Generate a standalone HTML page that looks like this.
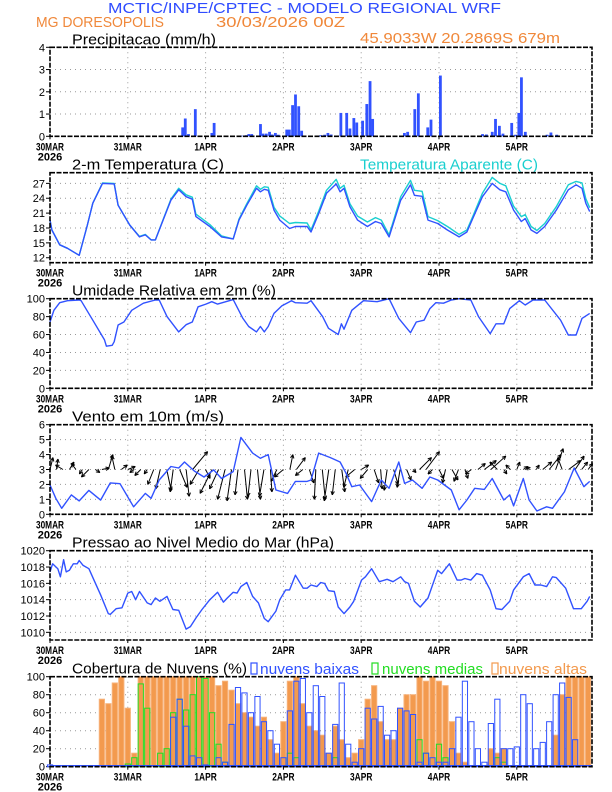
<!DOCTYPE html>
<html><head><meta charset="utf-8">
<style>
html,body{margin:0;padding:0;background:#fff;}
svg{display:block;font-family:"Liberation Sans",sans-serif;}
</style></head>
<body>
<svg id="chart" width="612" height="792" viewBox="0 0 612 792" xmlns="http://www.w3.org/2000/svg">
<text x="108" y="13" font-size="15" fill="#2f4cff" textLength="393" lengthAdjust="spacingAndGlyphs">MCTIC/INPE/CPTEC - MODELO REGIONAL WRF</text>
<text x="36" y="27" font-size="15" fill="#f0883a" textLength="128" lengthAdjust="spacingAndGlyphs">MG DORESOPOLIS</text>
<text x="216" y="27" font-size="15" fill="#f0883a" textLength="129" lengthAdjust="spacingAndGlyphs">30/03/2026 00Z</text>
<text x="360" y="43" font-size="15" fill="#f0883a" textLength="200" lengthAdjust="spacingAndGlyphs">45.9033W 20.2869S 679m</text>
<g id="layers"></g>
</svg>
<script>
// ---------- data ----------
const dayLabels = ["30MAR","31MAR","1APR","2APR","3APR","4APR","5APR"];
const precipHours = [38.2,40.9,41.7,42.7,44.8,49.9,50.6,59.5,60.5,61.3,62.2,64.9,65.7,66.7,67.7,68.5,69.5,70.4,73,73.8,74.8,75.7,76.7,77.6,83.5,84.7,85.7,86.7,89.7,91.5,92.5,93.7,94.6,96.4,97.7,98.7,99.5,109.3,110.3,112.5,113.6,116.5,117.5,120.4,133.4,134.6,136.4,137.4,138.6,139.7,142.4,143.6,144.6,145.4,146.6,153.3,154.5,156.3];
const precipValues = [0.02,0.4,0.8,0.1,1.22,0.15,0.6,0.03,0.05,0.1,0.1,0.55,0.12,0.12,0.2,0.08,0.15,0.07,0.3,0.3,1.4,1.88,1.35,0.25,0.05,0.07,0.15,0.08,1.05,1.05,0.35,0.82,0.62,0.7,1.45,2.48,0.78,0.15,0.2,1.22,1.93,0.4,0.75,2.73,0.1,0.08,0.2,0.78,0.47,0.12,0.6,0.07,1.05,2.65,0.2,0.07,0.17,0.07];
const precipTicks = ["0","1","2","3","4"];

const tempHours = [0,0.6,3,5.4,7.2,9,11.4,13.2,16.2,19.8,21,22.8,24.6,27.6,29.4,31.2,32.5,34.9,37.3,39.7,42,43.9,45,49.3,52.9,56.5,58.3,60.7,63.7,64.9,66.1,67.3,69.1,70.9,73.9,75.7,79.3,80.5,82.9,85.3,88.3,89.5,90.7,92.5,94.9,97.9,100.4,102.2,104.6,106.4,108.2,111.2,112.4,114.8,116.6,119.6,122.6,126.2,128.6,130.4,133.4,136.4,138.8,140.6,143,145.4,146.6,148.4,150.2,152.6,156.2,159.9,162.3,164.1,165.3,166.5];
const tempValues = [19.6,17.6,14.6,13.9,13.2,12.5,18.3,23,27,26.9,22.6,20.6,18.6,16.2,16.6,15.6,15.6,19.6,23.6,25.7,24.3,23.8,20.3,18.3,16.2,15.8,19.6,22.6,26,25.3,25.8,25.6,21.6,19.6,17.9,18.3,18.3,17.2,20.9,25,26.9,25.3,26,22.3,19.6,18.3,19.3,18.9,16.2,19.9,23.6,26.7,24.6,24.4,19.6,18.9,17.6,16.2,17.2,19.9,24.3,27,25.7,25.3,21.6,19.3,19.9,17.6,16.9,18.3,21.6,25.7,26.7,26,23,21.3];
const apparentValues = [19.6,17.6,14.6,13.9,13.2,12.5,18.3,23,27.1,27,22.6,20.6,18.6,16.3,16.7,15.6,15.6,19.7,23.8,26,24.7,24.2,20.8,18.7,16.4,15.8,19.8,22.9,26.5,25.8,26.3,26.2,22.2,20.4,18.9,19.1,19,17.6,21.4,25.6,27.8,26,26.6,22.9,20.4,19.2,20.1,19.6,16.6,20.4,24.3,27.6,25.6,25.4,20.3,19.5,18.3,16.7,17.6,20.3,25,28.2,27,26.5,22.4,20.3,20.7,18.3,17.5,18.9,22.3,26.7,27.4,27.1,23.9,22.1];
const tempTicks = ["12","15","18","21","24","27"];

const rhHours = [0,1.2,3,5.4,9,9.6,13.2,16.8,17.4,19.2,19.8,21,22.8,25.2,28.8,32.5,33.7,36.1,39.7,42,43.9,45.7,48.1,49.9,51.7,56.5,59.5,61.3,63.7,64.9,66.1,67.3,69.1,71.5,74.5,75.7,79.3,80.5,84.1,85.9,88.9,89.9,90.7,93.1,96.7,100.9,104.6,107.6,111.2,113,115.4,117.2,119,121.4,123.8,126.2,129.8,132.2,135.8,137.6,140,141.8,144.8,146.6,149,152.6,157.5,159.9,162.3,164.1,166.5];
const rhValues = [74,87,95.5,97.8,98.5,97.8,76,54,47,48,52,70.6,74,87,95,98.5,98.5,80,63,71,74,91,94,96.7,94,99,78,69,63,69,63,69,83.6,92,97.8,95.5,95,97.8,80,67,60,72,66,87,97.8,96.7,100,78,62,74,76,89,95.5,95,98.5,100,98.5,80,61,72,72,89,97.8,93,98.5,98.5,76,59.5,59.5,78,83.6];
const pctTicks = ["0","20","40","60","80","100"];

const windHours = [0,1.8,3.6,6.6,9,12,15.6,18.6,21.6,25.8,29.4,31.2,33.7,37.3,39.7,41.5,44.5,47.5,50.5,52.9,56.5,58.9,62.5,64.9,67.3,69.7,73.3,75.7,79.3,80.5,82.9,86.5,89.5,91.3,93.1,95.5,99.2,102.2,104.6,107.6,109.4,111.8,114.8,117.2,119.6,123.8,126.2,128.6,131,134,136.4,140,141.8,143,146,147.8,150.2,153.2,155,158.7,161.7,164.7,166.5];
const windSpeed = [1.96,1.07,0.4,1.3,0.9,1.6,0.95,2.1,2.05,0.5,1.4,1.07,2.3,3.2,3.1,3.5,2.9,2.5,2.97,2.4,2.86,5.15,4.1,3.75,4,1.63,1.4,2.2,2.2,2.3,4.1,3.8,3.5,2.75,1.85,1.96,0.85,2.3,1.74,3.5,2.07,2.3,1.74,2.5,2.3,1.63,0.3,0.96,1.74,1.67,2.4,0.96,1.3,0.56,2.4,0.96,0.22,0.5,0.4,1.5,3.1,1.85,2.2];
const windVecU = [0.2,0.1,-0.5,0.3,-0.3,-0.2,-0.5,0.3,0.5,0.3,-0.2,0.4,0.5,-0.3,-0.4,-0.2,-0.4,-0.3,0.3,-0.2,0.5,0.2,1.0,-0.6,0.3,-0.8,-0.6,-0.5,-0.3,-0.2,0.2,-0.2,0.2,-0.3,0.1,-0.4,-0.6,0.2,0.6,-0.5,0.3,-0.1,0.2,-0.3,-0.2,0.2,-0.3,-0.6,0.5,-0.5,0.3,0.1,-0.2,0.3,-0.2,0.3,0.2,0.8,0.9,-0.3,0.3,-0.2,0.4,-0.3,0.2,-0.4,0.5,0.8,1.0,-0.5,0.2,-0.3,0.2,0.3,-0.2,0.2,0.6,0.8,0.5,-0.3,0.8,0.6,0.4,0.3];
const windVecV = [0.8,0.7,0.3,0.5,0.4,-0.3,-0.5,-0.2,0.1,1.0,0.9,0.3,0.2,-0.2,-0.4,-0.3,-1.0,-1.3,-1.4,-1.5,-1.2,-1.8,1.2,-1.0,-0.6,-1.6,-1.3,-2.0,-2.1,-1.7,-2.0,-1.8,-2.0,-1.8,-1.5,-0.8,-0.5,1.0,0.8,-0.4,-0.9,-2.0,-2.0,-2.1,-1.7,-1.5,-1.2,-0.5,0.3,-0.6,-0.9,-1.3,-1.4,-1.0,-1.2,-0.7,-0.2,0.8,1.2,-0.3,-0.6,-0.9,-0.7,-0.8,-0.6,-0.3,0.4,0.6,0.9,0.5,-0.3,0.3,0.5,0.2,0.2,0.3,0.5,1.0,1.4,0.8,0.6,0.9,0.5,0.4];
const windTicks = ["0","1","2","3","4","5","6"];

const presHours = [0,0.8,2.4,3.2,4.2,5,6,7.2,8.4,9,10.2,12,13.8,15.6,18,18.6,20.4,22.2,24,25.2,26.4,27.6,30,31.2,32.5,33.9,36.1,37.9,39.7,42,43.3,45.1,46.9,49.3,51.7,53.5,54.7,56.5,57.7,58.9,60.7,62.5,64.3,66.1,67.3,69.7,70.9,72.7,73.9,75.7,78.1,79.3,80.5,82.3,83.5,84.7,85.9,87.7,88.9,90.7,92.5,93.7,96.1,97.3,99.2,101.6,104,105.8,108.2,109.4,110.6,112.4,114.2,116.6,119.6,120.8,123.2,125.6,126.8,128,129.8,131.6,133.4,135.8,137.6,139.4,141.8,143,146,147.8,149.6,151.4,153.2,155,156.2,159.1,161.5,163.9,165.7,166.5];
const presValues = [1017.4,1018.4,1017.8,1016.8,1018.9,1017.4,1017.6,1018.4,1018.4,1018.8,1018.2,1017.8,1016.2,1014.6,1012.3,1012.2,1012.9,1013,1014.8,1015,1014,1015,1013.6,1013.4,1014.2,1013.8,1014.4,1012.8,1012.7,1010.4,1010.7,1011.8,1012.8,1014,1014.9,1013.7,1014.2,1014.9,1014.8,1015.6,1016.1,1014.4,1013.6,1011.7,1011.3,1012.6,1014,1015.2,1015.2,1017,1015.4,1015.4,1015.8,1015.6,1016.1,1016,1015.1,1015,1013.1,1012.3,1013.1,1013.8,1016.4,1016.8,1017.8,1016.2,1016.5,1016.2,1016.8,1016.2,1016,1013.8,1013.1,1014.2,1017.6,1017.2,1018.4,1016.4,1016.4,1016.6,1016.4,1017.2,1017,1015.2,1012.9,1012.8,1013.8,1015.2,1016.8,1017.2,1015.8,1015.8,1015.6,1016.8,1016.7,1015.4,1012.9,1012.9,1013.8,1014.4];
const presTicks = ["1010","1012","1014","1016","1018","1020"];

const cloudHigh = [0,0,0,0,0,0,0,0,75,70,93,100,65,15,100,100,100,100,100,100,100,100,100,100,100,100,90,95,85,70,60,55,45,55,30,15,50,95,100,70,45,40,35,15,45,30,10,15,30,75,90,50,30,30,65,80,80,100,95,100,95,90,50,15,5,0,0,0,20,15,20,0,0,0,0,0,0,0,35,80,100,100,100,100];
const cloudLow = [2,0,0,0,0,0,0,0,0,0,0,0,0,0,0,0,0,0,0,55,75,45,12,10,2,0,10,5,47,88,82,60,78,50,40,25,10,62,95,98,60,90,78,15,47,93,25,5,20,65,53,67,35,40,65,62,58,5,15,10,5,5,20,55,95,50,20,5,48,75,20,20,22,80,70,20,27,50,80,93,77,30,0,0];
const cloudMid = [0,0,0,0,0,0,0,0,0,0,0,0,3,10,92,65,0,15,20,60,75,63,80,100,98,60,25,5,0,0,0,0,0,0,0,0,0,15,10,0,0,0,0,0,10,0,0,0,0,0,0,0,0,0,0,0,0,30,15,0,25,10,0,0,0,0,0,0,0,10,5,0,0,0,0,0,0,0,0,0,0,0,0,0];

// ---------- drawing ----------
const NS = "http://www.w3.org/2000/svg";
const root = document.getElementById("layers");
const X0 = 50, X1 = 592, HRS = 167.2;
function xs(h){ return X0 + h*(X1-X0)/HRS; }
function mk(tag, attrs, parent){
  const e = document.createElementNS(NS, tag);
  for (const k in attrs) e.setAttribute(k, attrs[k]);
  (parent||root).appendChild(e);
  return e;
}
function panel(name, top, bot, vmin, vmax, ticks, tickStep, tickStart, title, titleW){
  const g = mk("g", {});
  
  
  const ys = v => bot - (v - vmin) * (bot - top) / (vmax - vmin);
  for (let d = 1; d < dayLabels.length; d++){
    const gl = mk("line", {x1:xs(d*24), x2:xs(d*24), y1:top, y2:bot, stroke:"#999", "stroke-width":1, "stroke-dasharray":"1,4"}, g);
    
    
  }
  ticks.forEach((t, i) => {
    const v = tickStart + i*tickStep;
    const y = ys(v);
    if (v > vmin && v < vmax){
      const gl = mk("line", {x1:X0, x2:X1, y1:y, y2:y, stroke:"#999", "stroke-width":1, "stroke-dasharray":"1,4"}, g);
      
      
    }
    const tk = mk("line", {x1:X0-4, x2:X0, y1:y, y2:y, stroke:"#000", "stroke-width":1}, g);
    
    
    const tl = mk("text", {x:X0-5, y:y+4, "font-size":11, "text-anchor":"end", fill:"#000"}, g);
    tl.textContent = t;
    
    
  });
  dayLabels.forEach((d, i) => {
    const tx = xs(i*24);
    const tk = mk("line", {x1:tx, x2:tx, y1:bot, y2:bot+3, stroke:"#000", "stroke-width":1}, g);
    
    
    const t = mk("text", {x:tx, y:bot+14, "font-size":11, "font-weight":"bold", "text-anchor":"middle", fill:"#000", textLength:(d.length*5.6), lengthAdjust:"spacingAndGlyphs"}, g);
    t.textContent = d;
    
    
  });
  const yr = mk("text", {x:50, y:bot+24, "font-size":11, "font-weight":"bold", "text-anchor":"middle", fill:"#000"}, g);
  yr.textContent = "2026";
  
  
  const tt = mk("text", {x:72, y:top-3, "font-size":15, fill:"#000", textLength:titleW, lengthAdjust:"spacingAndGlyphs"}, g);
  tt.textContent = title;
  
  
  const plot = mk("g", {}, g);
  
  
  return {g, plot, ys, top, bot};
}
function frame(p){
  const f = mk("rect", {x:X0, y:p.top, width:X1-X0, height:p.bot-p.top, fill:"none", stroke:"#000", "stroke-width":1.6, "stroke-dasharray":"5,1.5"}, p.g);
  
  
}
function line(p, hs, vs, color, name){
  const d = hs.map((h,i)=> (i?"L":"M") + xs(h).toFixed(1) + "," + p.ys(vs[i]).toFixed(1)).join("");
  const l = mk("path", {d, fill:"none", stroke:color, "stroke-width":1.4, "stroke-linejoin":"round"}, p.plot);
  
  
}
const BLUE = "#3152ff", ORANGE = "#f39a4e", GREEN = "#22dd22", CYAN = "#19cfcf";

const p1 = panel("precipitation", 47.3, 136.3, 0, 4, precipTicks, 1, 0, "Precipitacao (mm/h)", 144);
precipHours.forEach((h, i) => {
  const y = p1.ys(precipValues[i]);
  const b = mk("rect", {x:xs(h)-1.3, y:y, width:2.8, height:p1.ys(0)-y, fill:BLUE}, p1.plot);
  
  
});
frame(p1);

const p2 = panel("temperature", 172.7, 262.7, 11.0, 29.15, tempTicks, 3, 12, "2-m Temperatura (C)", 152);
line(p2, tempHours, apparentValues, CYAN, "apparent-temperature-line");
line(p2, tempHours, tempValues, BLUE, "temperature-line");
const lg = mk("text", {x:360, y:169.7, "font-size":15, fill:CYAN, textLength:178, lengthAdjust:"spacingAndGlyphs"}, p2.g);
lg.textContent = "Temperatura Aparente (C)";


frame(p2);

const p3 = panel("humidity", 298.7, 388.3, 0, 100, pctTicks, 20, 0, "Umidade Relativa em 2m (%)", 204);
line(p3, rhHours, rhValues, BLUE, "humidity-line");
frame(p3);

const p4 = panel("wind", 424.7, 514.3, 0, 6, windTicks, 1, 0, "Vento em 10m (m/s)", 152);
const y3 = p4.ys(3), VS = (p4.bot-p4.top)/6;
windVecU.forEach((u, i) => {
  const v = windVecV[i];
  const x0 = xs(i*2), x1 = x0 + u*VS, y1 = y3 - v*VS;
  const a = mk("g", {}, p4.plot);
  
  
  mk("line", {x1:x0, y1:y3, x2:x1, y2:y1, stroke:"#000", "stroke-width":1}, a);
  const ang = Math.atan2(y1-y3, x1-x0), L = 4;
  [0.45, -0.45].forEach(da => {
    mk("line", {x1:x1, y1:y1, x2:x1 - L*Math.cos(ang+da), y2:y1 - L*Math.sin(ang+da), stroke:"#000", "stroke-width":1}, a);
  });
});
line(p4, windHours, windSpeed, BLUE, "wind-speed-line");
frame(p4);

const p5 = panel("pressure", 550.7, 640, 1009.06, 1020, presTicks, 2, 1010, "Pressao ao Nivel Medio do Mar (hPa)", 262);
line(p5, presHours, presValues, BLUE, "pressure-line");
frame(p5);

const p6 = panel("clouds", 676.7, 766.7, 0, 100, pctTicks, 20, 0, "Cobertura de Nuvens (%)", 175);
function cloudBars(arr, fill, stroke, name){
  arr.forEach((v, i) => {
    if (v <= 0) return;
    const y = p6.ys(v);
    const b = mk("rect", {x:xs(i*2)-2.6, y:y, width:5.2, height:p6.ys(0)-y, fill:fill, stroke:stroke, "stroke-width":1}, p6.plot);
    
    
  });
}
cloudBars(cloudHigh, ORANGE, "#f7b27a", "cloud-high-bar");
cloudBars(cloudMid, "none", GREEN, "cloud-mid-bar");
cloudBars(cloudLow, "none", BLUE, "cloud-low-bar");
const zl = mk("line", {x1:X0, x2:X1, y1:p6.bot-1, y2:p6.bot-1, stroke:BLUE, "stroke-width":1.5}, p6.plot);


[[251,BLUE,"nuvens baixas",260,99,"legend-low-clouds"],[372,GREEN,"nuvens medias",382,101,"legend-mid-clouds"],[492,ORANGE,"nuvens altas",499,88,"legend-high-clouds"]].forEach(e => {
  const lg = mk("g", {}, p6.g);
  
  
  mk("rect", {x:e[0], y:663, width:6, height:11, fill:"none", stroke:e[1], "stroke-width":1.2}, lg);
  const t = mk("text", {x:e[3], y:674, "font-size":15, fill:e[1], textLength:e[4], lengthAdjust:"spacingAndGlyphs"}, lg);
  t.textContent = e[2];
});
frame(p6);
</script>
</body></html>
